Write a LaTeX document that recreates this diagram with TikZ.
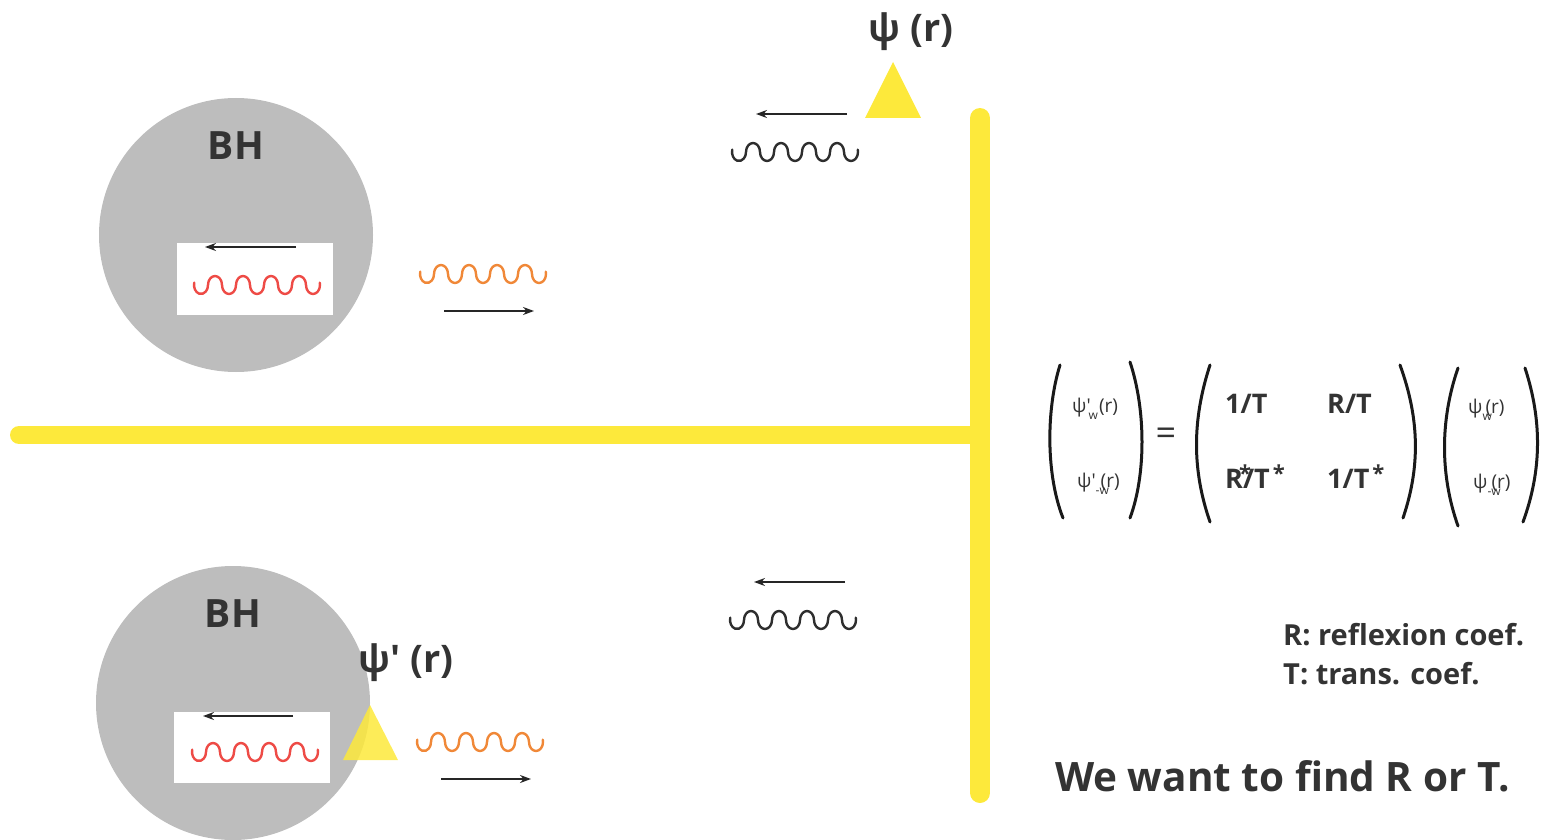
\documentclass[tikz,border=0pt]{standalone}
\usepackage{fontspec}
\setmainfont{Open Sans}
\newfontfamily\osraw{Open Sans}
\usetikzlibrary{arrows.meta}
\definecolor{bhgray}{HTML}{BDBDBD}
\definecolor{ylw}{HTML}{FDE93B}
\definecolor{txt}{HTML}{333333}
\definecolor{redw}{HTML}{EE4B46}
\definecolor{orw}{HTML}{F08838}
\definecolor{blkw}{HTML}{2E2E2E}
\newcommand\wavy[3]{\draw[wave,#3] ({#1-56+7*cos(195)},{#2+9*sin(195)})
  arc[start angle=195,end angle=0,x radius=7,y radius=9]
  \foreach \i in {1,...,4}{ arc[start angle=180,end angle=360,x radius=7,y radius=9]
  arc[start angle=180,end angle=0,x radius=7,y radius=9] }
  arc[start angle=0,end angle=-15,x radius=7,y radius=9];}
\newcommand\subs[1]{\raisebox{-7pt}{\fontsize{12}{12}\selectfont #1}}
\newcommand\prm{{\osraw'}}
\newcommand\st{\raisebox{7pt}{\fontsize{22}{22}\selectfont *}}
\begin{document}
\begin{tikzpicture}[x=1pt,y=-1pt,
  wave/.style={line width=2.4pt, line cap=round},
  arr/.style={line width=1.8pt, draw=black!85, -{Stealth[length=11pt,width=8pt]}},
  lbl/.style={text=txt, font=\bfseries\fontsize{#1}{#1}\selectfont, inner sep=0pt},
  reg/.style={text=txt, font=\fontsize{#1}{#1}\selectfont, inner sep=0pt},
  paren/.style={line width=3pt, draw=black!90, line cap=round},
  bh/.style={fill=bhgray},
  tri/.style={fill=ylw},
  bar/.style={draw=ylw, line cap=round},
]
\useasboundingbox (0,0) rectangle (1548,840);
\clip (0,0) rectangle (1548,840);

% black holes
\fill[bh] (236,235) circle (137);
\fill[bh] (233,703) circle (137);
\node[lbl=39, anchor=base] (bh1) at (236,160) {BH};
\node[lbl=39, anchor=base] (bh2) at (233,627) {BH};

% white boxes
\fill[white] (177,243) rectangle (333,315);
\fill[white] (174,712) rectangle (330,783);

% inner arrows and waves
\coordinate (a1s) at (296,247); \coordinate (a1e) at (205,247);
\draw[arr] (a1s) -- (a1e);
\wavy{257}{285}{redw}
\coordinate (a2s) at (293,716); \coordinate (a2e) at (203,716);
\draw[arr] (a2s) -- (a2e);
\wavy{255}{752}{redw}

% outgoing waves
\wavy{483}{274}{orw}
\coordinate (a3s) at (444,311); \coordinate (a3e) at (534,311);
\draw[arr] (a3s) -- (a3e);
\wavy{480}{742}{orw}
\coordinate (a4s) at (441,779); \coordinate (a4e) at (531,779);
\draw[arr] (a4s) -- (a4e);

% reflected waves
\wavy{795}{152}{blkw}
\coordinate (a5s) at (847,114); \coordinate (a5e) at (756,114);
\draw[arr] (a5s) -- (a5e);
\wavy{793}{620}{blkw}
\coordinate (a6s) at (845,582); \coordinate (a6e) at (754,582);
\draw[arr] (a6s) -- (a6e);

% yellow barrier
\draw[bar, line width=18pt] (19,435) -- (980,435);
\draw[bar, line width=20pt] (980,118) -- (980,793);

% triangles
\fill[tri] (865,118) -- (921,118) -- (893,62) -- cycle;
\fill[tri, opacity=0.85] (343,760) -- (398,760) -- (370,705) -- cycle;
\node[lbl=38, anchor=base] (psi) at (911,42) {ψ (r)};
\node[lbl=38, anchor=base] (psip) at (406,672) {ψ\prm\ (r)};

% matrix equation
\draw[paren] (1060,365) .. controls (1046,410) and (1046,475) .. (1063,518);
\draw[paren] (1130,362) .. controls (1146,410) and (1146,475) .. (1130,518);
\draw[paren] (1210,365) .. controls (1192,420) and (1192,470) .. (1210,522);
\draw[paren] (1400,365) .. controls (1420,420) and (1420,468) .. (1403,518);
\draw[paren] (1458,368) .. controls (1440,420) and (1440,475) .. (1458,526);
\draw[paren] (1525,368) .. controls (1542,420) and (1542,470) .. (1523,522);

\node[reg=19, anchor=base west] (v1) at (1072,412) {ψ\prm\kern-2pt\subs{w}\kern1pt(r)};
\node[reg=19, anchor=base west] (v2) at (1077,487) {ψ\prm\rlap{\subs{-w}}\kern5pt(r)};
\node[reg=36] (eq) at (1166,437) {=};
\node[lbl=27, anchor=base west] (m11) at (1225,413) {1/T};
\node[lbl=27, anchor=base west] (m12) at (1327,413) {R/T};
\node[lbl=27, anchor=base west] (m21) at (1225,488) {R\rlap{\kern-4pt\st}/T\kern3pt\st};
\node[lbl=27, anchor=base west] (m22) at (1327,488) {1/T\kern3pt\st};
\node[reg=19, anchor=base west] (w1) at (1468,413) {ψ\rlap{\subs{w}}\kern3pt(r)};
\node[reg=19, anchor=base west] (w2) at (1473,488) {ψ\rlap{\subs{-w}}\kern4pt(r)};

% legend
\node[lbl=29, anchor=base west] (lr) at (1283,645) {R: reflexion coef.};
\node[lbl=29, anchor=base west] (lt) at (1283,684) {T: trans. coef.};
\node[lbl=40.5, anchor=base west] (goal) at (1055,791) {We want to find R or T.};
\end{tikzpicture}
\end{document}
